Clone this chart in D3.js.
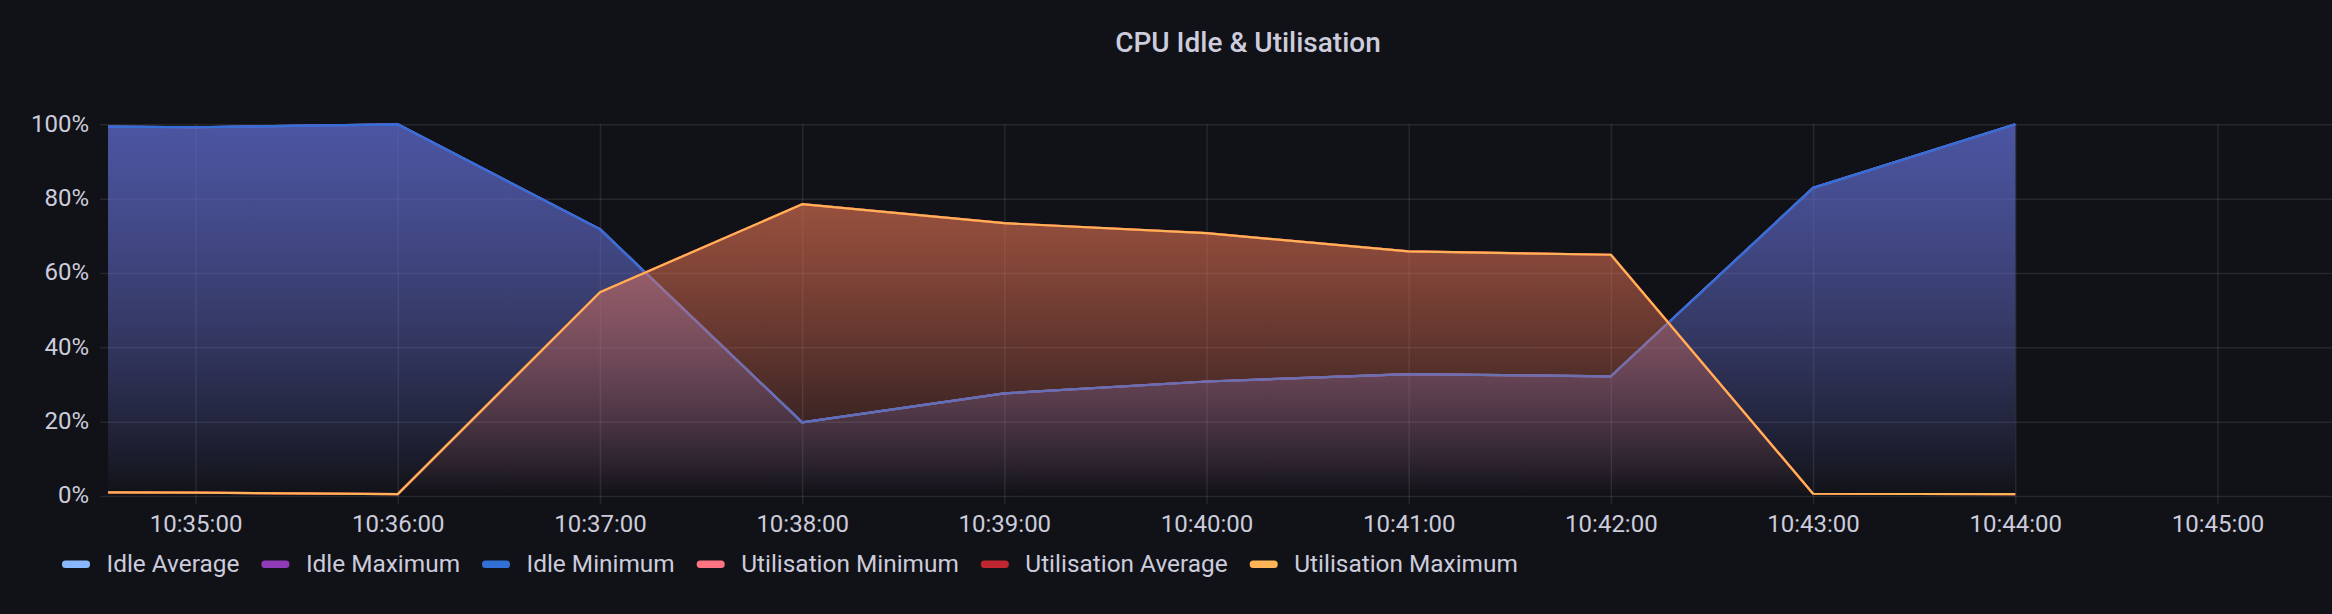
<!DOCTYPE html>
<html><head><meta charset="utf-8">
<script src="https://cdn.jsdelivr.net/npm/d3@7"></script>
<style>html,body{margin:0;padding:0;background:#111217;overflow:hidden}</style>
</head><body><svg id="chart" width="2332" height="614"></svg>
<script>
// ---- data ----
const times = ["10:34:34","10:35:00","10:36:00","10:37:00","10:38:00","10:39:00","10:40:00","10:41:00","10:42:00","10:43:00","10:44:00"];
const idleAverage = [99.4, 99.2, 100, 71.8, 19.8, 27.6, 30.8, 32.8, 32.2, 82.9, 100];
const idleMaximum = [99.4, 99.2, 100, 71.8, 19.8, 27.6, 30.8, 32.8, 32.2, 82.9, 100];
const idleMinimum = [99.4, 99.2, 100, 71.8, 19.8, 27.6, 30.8, 32.8, 32.2, 82.9, 100];
const utilisationMinimum = [1.0, 0.9, 0.5, 54.8, 78.5, 73.4, 70.7, 65.8, 64.9, 0.6, 0.5];
const utilisationAverage = [1.0, 0.9, 0.5, 54.8, 78.5, 73.4, 70.7, 65.8, 64.9, 0.6, 0.5];
const utilisationMaximum = [1.0, 0.9, 0.5, 54.8, 78.5, 73.4, 70.7, 65.8, 64.9, 0.6, 0.5];
const seriesNames = ["Idle Average","Idle Maximum","Idle Minimum","Utilisation Minimum","Utilisation Average","Utilisation Maximum"];
const seriesValues = [idleAverage, idleMaximum, idleMinimum, utilisationMinimum, utilisationAverage, utilisationMaximum];
const seriesColors = ["#8AB8FF","#8F3BB8","#3270D8","#FF7383","#BF2630","#FFB357"];
const yTickValues = [0, 20, 40, 60, 80, 100];
const timeDomain = ["10:34:34","10:45:34"];
const chartTitle = "CPU Idle & Utilisation";

// ---- layout ----
const W = 2332, H = 614;
const plot = {left: 108, right: 2332, top: 124.3, bottom: 496};
const tickLen = 8;
const textColor = "#ccccdc";
const gridColor = "rgba(240,250,255,0.09)";
const fillOpacity = 0.35;
const font = "Roboto, 'Noto Sans', sans-serif";

const parse = d3.timeParse("%H:%M:%S");
const svg = d3.select("#chart");

const x = d3.scaleTime().domain(timeDomain.map(parse)).range([plot.left, plot.right]);
const y = d3.scaleLinear().domain([0, 100]).range([plot.bottom, plot.top]);

// title
svg.append("text").attr("x", 1248).attr("y", 51.5)
  .attr("text-anchor", "middle").attr("fill", textColor)
  .style("font-family", font).style("font-weight", 500).style("font-size", "28px")
  .text(chartTitle);

// y axis + grid
const yAxis = svg.append("g").attr("transform", `translate(${plot.left - tickLen},0)`)
  .call(d3.axisLeft(y).tickValues(yTickValues).tickFormat(d => d + "%")
    .tickSize(-(plot.right - plot.left + tickLen)).tickPadding(11));
yAxis.select(".domain").remove();
yAxis.selectAll("line").attr("stroke", gridColor).attr("stroke-width", 1.5);
yAxis.selectAll("text").attr("fill", textColor).attr("dy", "0.28em")
  .style("font-family", font).style("font-size", "24px");

// x axis + grid
const xAxis = svg.append("g").attr("transform", `translate(0,${plot.bottom + tickLen})`)
  .call(d3.axisBottom(x).ticks(d3.timeMinute.every(1)).tickFormat(d3.timeFormat("%H:%M:%S"))
    .tickSize(-(plot.bottom + tickLen - plot.top)).tickPadding(11));
xAxis.select(".domain").remove();
xAxis.selectAll("line").attr("stroke", gridColor).attr("stroke-width", 1.5);
xAxis.selectAll("text").attr("fill", textColor)
  .style("font-family", font).style("font-size", "24px");

// gradients
const defs = svg.append("defs");
defs.append("clipPath").attr("id", "plotclip").append("rect")
  .attr("x", plot.left).attr("y", plot.top - 2).attr("width", plot.right - plot.left).attr("height", plot.bottom - plot.top + 2);
seriesColors.forEach((c, i) => {
  const g = defs.append("linearGradient").attr("id", "grad" + i)
    .attr("gradientUnits", "userSpaceOnUse")
    .attr("x1", 0).attr("x2", 0).attr("y1", plot.top).attr("y2", plot.bottom);
  g.append("stop").attr("offset", 0).attr("stop-color", c).attr("stop-opacity", fillOpacity);
  g.append("stop").attr("offset", 1).attr("stop-color", c).attr("stop-opacity", 0);
});

const plotG = svg.append("g").attr("clip-path", "url(#plotclip)");
const tVals = times.map(parse);
const area = d3.area().x((d, i) => x(tVals[i])).y0(y(0)).y1(d => y(d));
const line = d3.line().x((d, i) => x(tVals[i])).y(d => y(d));
seriesValues.forEach((vals, i) => {
  plotG.append("path").attr("d", area(vals)).attr("fill", `url(#grad${i})`);
  plotG.append("path").attr("d", line(vals)).attr("fill", "none")
    .attr("stroke", seriesColors[i]).attr("stroke-width", 2.2).attr("stroke-linejoin", "round");
});

// legend
const legend = svg.append("g");
let lx = 62;
const ly = 564.3;
seriesNames.forEach((name, i) => {
  legend.append("rect").attr("x", lx).attr("y", ly - 3.7).attr("width", 28).attr("height", 7.4)
    .attr("rx", 3.5).attr("fill", seriesColors[i]);
  const t = legend.append("text").attr("x", lx + 44.5).attr("y", 572)
    .attr("fill", textColor).style("font-family", font).style("font-size", "24.4px").text(name);
  lx = lx + 44.5 + t.node().getComputedTextLength() + 22;
});
</script>
</body></html>
